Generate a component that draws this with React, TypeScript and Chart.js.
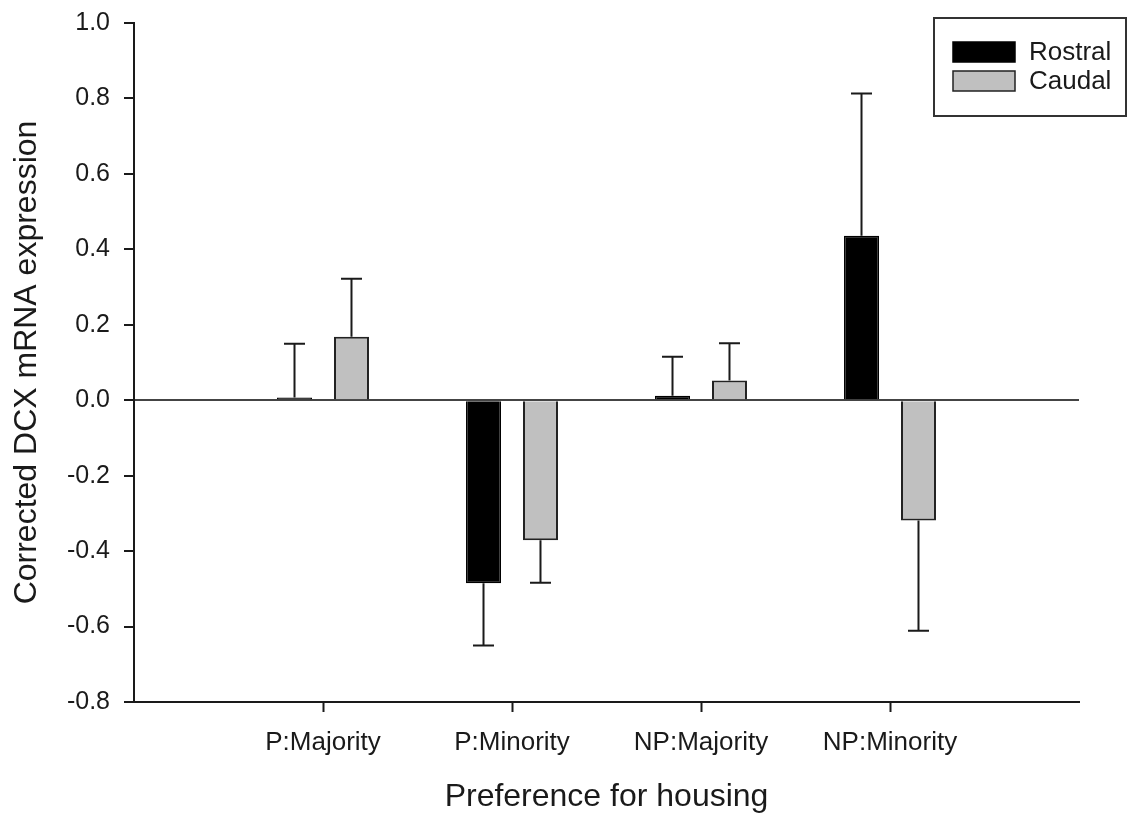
import React, { useEffect, useRef } from "react";
import { Chart, registerables } from "chart.js";

Chart.register(...registerables);

// Group labels (blank slots at both ends pad the axis)
const categories = ["", "P:Majority", "P:Minority", "NP:Majority", "NP:Minority", ""];

// Mean corrected DCX mRNA expression and error (one-sided, away from zero)
const rostral = [null, 0.007, -0.485, 0.012, 0.436, null];
const rostralErr = [null, 0.143, 0.165, 0.103, 0.377, null];
const caudal = [null, 0.168, -0.371, 0.052, -0.319, null];
const caudalErr = [null, 0.154, 0.113, 0.099, 0.292, null];

const yMin = -0.8;
const yMax = 1.0;
const yStep = 0.2;

const FONT = '"Liberation Sans", Arial, sans-serif';
const INK = "#1a1a1a";

const errorBars = {
  id: "errorBars",
  afterDatasetsDraw(chart: any) {
    const { ctx } = chart;
    const yScale = chart.scales.y;
    const errs = [rostralErr, caudalErr];
    ctx.save();
    ctx.strokeStyle = INK;
    ctx.lineWidth = 2;
    chart.data.datasets.forEach((ds: any, di: number) => {
      const meta = chart.getDatasetMeta(di);
      ds.data.forEach((v: number | null, i: number) => {
        const e = errs[di][i];
        if (v === null || e === null) return;
        const el = meta.data[i];
        if (!el) return;
        const tip = v >= 0 ? v + e : v - e;
        const x = el.x;
        const y0 = yScale.getPixelForValue(v);
        const y1 = yScale.getPixelForValue(tip);
        ctx.beginPath();
        ctx.moveTo(x, y0);
        ctx.lineTo(x, y1);
        ctx.moveTo(x - 10.5, y1);
        ctx.lineTo(x + 10.5, y1);
        ctx.stroke();
      });
    });
    ctx.restore();
  },
};

const legendBox = {
  id: "legendBox",
  afterDraw(chart: any) {
    const { ctx, chartArea } = chart;
    const x0 = chartArea.right - 145;
    const y0 = chartArea.top - 5;
    ctx.save();
    ctx.lineWidth = 2;
    ctx.strokeStyle = "#333";
    ctx.strokeRect(x0, y0, 192, 98);
    chart.data.datasets.forEach((ds: any, i: number) => {
      const sy = y0 + 24 + i * 29;
      ctx.fillStyle = ds.backgroundColor;
      ctx.fillRect(x0 + 19, sy, 62, 20);
      ctx.strokeStyle = ds.borderColor;
      ctx.lineWidth = 1.5;
      ctx.strokeRect(x0 + 19, sy, 62, 20);
      ctx.fillStyle = INK;
      ctx.font = `26px ${FONT}`;
      ctx.textBaseline = "middle";
      ctx.textAlign = "left";
      ctx.fillText(ds.label, x0 + 95, sy + 11);
    });
    ctx.restore();
  },
};

export default function App() {
  const canvasRef = useRef<HTMLCanvasElement | null>(null);

  useEffect(() => {
    if (!canvasRef.current) return;
    const chart = new Chart(canvasRef.current, {
      type: "bar",
      data: {
        labels: categories,
        datasets: [
          {
            label: "Rostral",
            data: rostral,
            backgroundColor: "#000000",
            borderColor: "#000000",
            borderWidth: 1.5,
          },
          {
            label: "Caudal",
            data: caudal,
            backgroundColor: "#c0c0c0",
            borderColor: "#222222",
            borderWidth: 2,
          },
        ],
      },
      options: {
        animation: false,
        responsive: false,
        maintainAspectRatio: false,
        datasets: {
          bar: {
            categoryPercentage: 0.603,
            barPercentage: 0.614,
          },
        },
        layout: { padding: { top: 23, right: 49, bottom: 0, left: 0 } },
        plugins: {
          legend: { display: false },
          tooltip: { enabled: false },
        },
        scales: {
          x: {
            offset: false,
            grid: {
              offset: false,
              drawOnChartArea: false,
              tickLength: 10,
              tickWidth: 2,
              tickColor: (c: any) =>
                c.index === 0 || c.index === categories.length - 1 ? "rgba(0,0,0,0)" : INK,
            },
            border: { color: INK, width: 2 },
            ticks: {
              color: INK,
              font: { family: FONT, size: 26 },
              padding: 15,
              maxRotation: 0,
              autoSkip: false,
            },
            title: {
              display: true,
              text: "Preference for housing",
              color: INK,
              font: { family: FONT, size: 32, lineHeight: 1 },
              padding: { top: 0, bottom: 0 },
            },
            afterFit: (s: any) => {
              s.height = 111;
            },
          },
          y: {
            min: yMin,
            max: yMax,
            grid: {
              drawOnChartArea: true,
              color: (c: any) =>
                c.tick && Math.abs(c.tick.value) < 1e-9 ? "#444444" : "rgba(0,0,0,0)",
              lineWidth: 2,
              tickLength: 10,
              tickWidth: 2,
              tickColor: INK,
            },
            border: { color: INK, width: 2 },
            ticks: {
              stepSize: yStep,
              color: INK,
              font: { family: FONT, size: 25 },
              padding: 14,
              callback: (v: any) => (Math.abs(Number(v)) < 1e-9 ? "0.0" : Number(v).toFixed(1)),
            },
            title: {
              display: true,
              text: "Corrected DCX mRNA expression",
              color: INK,
              font: { family: FONT, size: 32, lineHeight: 1.2 },
              padding: { top: 8, bottom: 0 },
            },
            afterFit: (s: any) => {
              s.width = 134;
              s.paddingTop = 0;
              s.paddingBottom = 0;
            },
          },
        },
      },
      plugins: [errorBars, legendBox],
    });
    return () => chart.destroy();
  }, []);

  return (
    <div style={{ position: "absolute", left: 0, top: 0, width: 1128, height: 813, background: "#fff" }}>
      <canvas ref={canvasRef} width={1128} height={813} />
    </div>
  );
}
